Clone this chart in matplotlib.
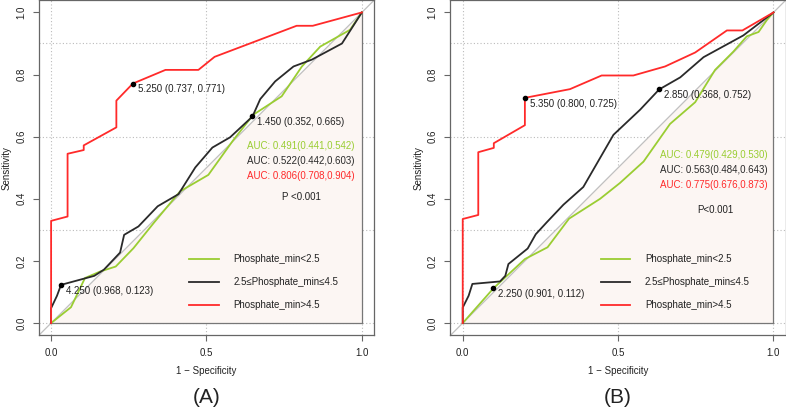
import matplotlib
matplotlib.use("Agg")
import matplotlib.pyplot as plt

plt.rcParams['font.family'] = ['Liberation Sans', 'DejaVu Sans']

series_names = ["Phosphate_min<2.5", "2.5≤Phosphate_min≤4.5", "Phosphate_min>4.5"]
series_colors = ["#9ACD32", "#2A2A2A", "#FF2A2A"]

# Panel A curves (1 - specificity, sensitivity)
a_green_x = [0, 0.064, 0.109, 0.158, 0.208, 0.265, 0.33, 0.415, 0.506, 0.587, 0.651, 0.742, 0.807, 0.866, 0.962, 1.0]
a_green_y = [0, 0.051, 0.145, 0.166, 0.182, 0.241, 0.322, 0.424, 0.477, 0.59, 0.671, 0.73, 0.826, 0.89, 0.944, 1.0]
a_black_x = [0, 0, 0.019, 0.032, 0.139, 0.17, 0.222, 0.235, 0.281, 0.343, 0.41, 0.464, 0.519, 0.576, 0.648, 0.673, 0.721, 0.78, 0.839, 0.936, 1.0]
a_black_y = [0, 0.048, 0.088, 0.123, 0.152, 0.172, 0.227, 0.284, 0.311, 0.376, 0.415, 0.501, 0.565, 0.598, 0.665, 0.721, 0.778, 0.826, 0.848, 0.9, 1.0]
a_red_x = [0, 0, 0.053, 0.053, 0.105, 0.105, 0.21, 0.21, 0.263, 0.368, 0.474, 0.526, 0.79, 0.842, 1.0]
a_red_y = [0, 0.329, 0.343, 0.545, 0.557, 0.572, 0.63, 0.716, 0.771, 0.815, 0.815, 0.857, 0.957, 0.957, 1.0]

# Panel B curves
b_green_x = [0, 0.099, 0.2, 0.273, 0.342, 0.442, 0.506, 0.582, 0.667, 0.748, 0.812, 0.871, 0.914, 0.952, 0.979, 1.0]
b_green_y = [0, 0.112, 0.206, 0.244, 0.336, 0.4, 0.451, 0.52, 0.641, 0.711, 0.815, 0.874, 0.923, 0.937, 0.976, 1.0]
b_black_x = [0, 0, 0.019, 0.031, 0.12, 0.137, 0.147, 0.209, 0.235, 0.27, 0.324, 0.388, 0.485, 0.571, 0.632, 0.7, 0.775, 0.903, 1.0]
b_black_y = [0, 0.05, 0.088, 0.126, 0.134, 0.152, 0.19, 0.24, 0.286, 0.324, 0.381, 0.438, 0.606, 0.687, 0.752, 0.791, 0.856, 0.926, 1.0]
b_red_x = [0, 0, 0.05, 0.05, 0.1, 0.1, 0.2, 0.2, 0.345, 0.447, 0.549, 0.651, 0.748, 0.85, 0.9, 1.0]
b_red_y = [0, 0.335, 0.348, 0.55, 0.564, 0.579, 0.637, 0.725, 0.753, 0.797, 0.797, 0.826, 0.871, 0.942, 0.942, 1.0]

# Best thresholds: (threshold, specificity, sensitivity)
a_thresholds = [(5.250, 0.737, 0.771), (1.450, 0.352, 0.665), (4.250, 0.968, 0.123)]
b_thresholds = [(5.350, 0.800, 0.725), (2.850, 0.368, 0.752), (2.250, 0.901, 0.112)]

a_auc = ["AUC: 0.491(0.441,0.542)", "AUC: 0.522(0.442,0.603)", "AUC: 0.806(0.708,0.904)"]
b_auc = ["AUC: 0.479(0.429,0.530)", "AUC: 0.563(0.484,0.643)", "AUC: 0.775(0.676,0.873)"]
a_p = "P <0.001"
b_p = "P<0.001"

x_ticks = [0.0, 0.5, 1.0]
x_ticklabels = ["0.0", "0.5", "1.0"]
y_ticks = [0.0, 0.2, 0.4, 0.6, 0.8, 1.0]
y_ticklabels = ["0.0", "0.2", "0.4", "0.6", "0.8", "1.0"]
grid_x = [0.0, 0.5, 1.0]
grid_y = [0.0, 0.3, 0.6, 0.9]

fig = plt.figure(figsize=(7.86, 4.12), dpi=100)
ax_a = fig.add_axes([0.0492, 0.1857, 0.4270, 0.8143])
ax_b = fig.add_axes([0.5729, 0.1857, 0.4270, 0.8143])

def draw(ax, curves, thresholds, aucs, auc_pos, ptxt, p_pos, legend_x, panel):
    ax.set_xlim(-0.04, 1.04)
    ax.set_ylim(-0.04, 1.04)
    for gx in grid_x:
        ax.axvline(gx, color="#BBBBBB", lw=0.8, ls=(0, (1, 2)), zorder=0)
    for gy in grid_y:
        ax.axhline(gy, color="#BBBBBB", lw=0.8, ls=(0, (1, 2)), zorder=0)
    ax.fill([0, 1, 1], [0, 1, 0], facecolor="#FCF6F3", edgecolor="none", zorder=1)
    ax.plot([1, 1, 0], [1, 0, 0], color="#777777", lw=0.9, zorder=2)
    ax.plot([-0.04, 1.04], [-0.04, 1.04], color="#C0C0C0", lw=0.9, zorder=2)
    for (xs, ys), c in zip(curves, series_colors):
        ax.plot(xs, ys, color=c, lw=1.3, zorder=3)
    for thr, spec, sens in thresholds:
        ax.plot([1 - spec], [sens], 'o', color="black", ms=3, zorder=4)
        ax.annotate(f"{thr:.3f} ({spec:.3f}, {sens:.3f})", xy=(1 - spec, sens),
                    xytext=(3.4, -4.2), textcoords="offset points",
                    ha="left", va="center", fontsize=7, color="#222222", zorder=5)
    for i, (t, c) in enumerate(zip(aucs, series_colors)):
        ax.text(auc_pos[0], auc_pos[1] - i * 0.049, t, color=c, fontsize=7,
                ha="left", va="center", zorder=5)
    ax.text(p_pos[0], p_pos[1], ptxt, color="#222222", fontsize=7, ha="center", va="center")
    leg_y = [0.206, 0.132, 0.059]
    for name, c, ly in zip(series_names, series_colors, leg_y):
        ax.plot([legend_x, legend_x + 0.095], [ly, ly], color=c, lw=1.3, zorder=5)
        ax.text(legend_x + 0.142, ly, name, fontsize=7, color="#222222", ha="left", va="center", zorder=5)
    ax.set_xticks(x_ticks)
    ax.set_xticklabels(x_ticklabels)
    ax.set_yticks(y_ticks)
    ax.set_yticklabels(y_ticklabels, rotation=90, va="center")
    ax.tick_params(axis="both", labelsize=7, length=4, width=0.8, color="#666666",
                   labelcolor="#222222", pad=5)
    for s in ax.spines.values():
        s.set_color("#666666")
        s.set_linewidth(0.9)
    ax.set_xlabel("1 − Specificity", fontsize=7, color="#222222", labelpad=6)
    ax.set_ylabel("Sensitivity", fontsize=7, color="#222222", labelpad=3)
    ax.text(0.5, -0.185, panel, transform=ax.transAxes, fontsize=15, ha="center", va="center",
            color="#222222")

draw(ax_a, [(a_green_x, a_green_y), (a_black_x, a_black_y), (a_red_x, a_red_y)],
     a_thresholds, a_auc, (0.63, 0.571), a_p, (0.804, 0.406), 0.445, "(A)")
draw(ax_b, [(b_green_x, b_green_y), (b_black_x, b_black_y), (b_red_x, b_red_y)],
     b_thresholds, b_auc, (0.635, 0.542), b_p, (0.814, 0.363), 0.444, "(B)")

fig.savefig("out.png", dpi=100)
